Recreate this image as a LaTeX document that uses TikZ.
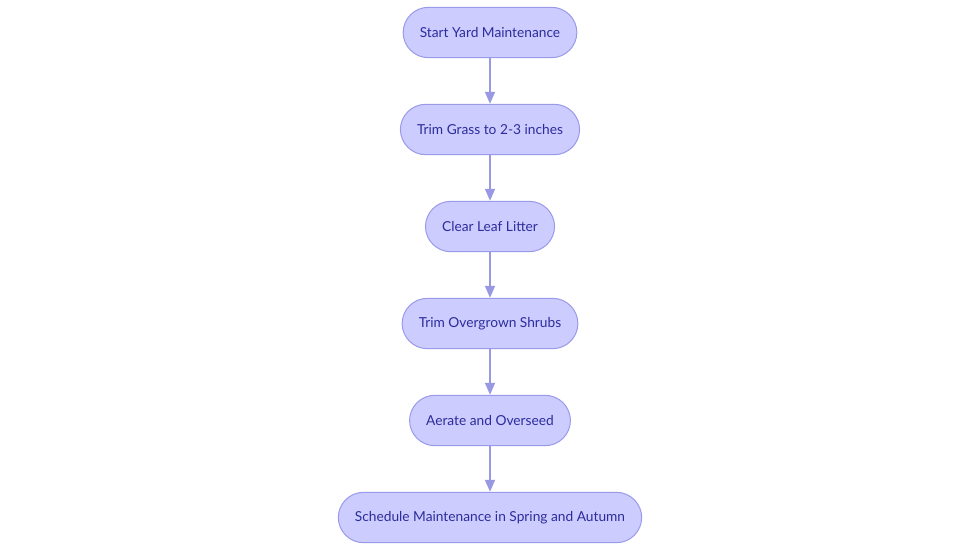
\documentclass[tikz,border=0pt]{standalone}
\usepackage{fontspec}
\setmainfont{Lato}
\usetikzlibrary{arrows.meta, positioning}

\definecolor{pillfill}{HTML}{CCCCFF}
\definecolor{pillline}{HTML}{9A9AEA}
\definecolor{pilltext}{HTML}{2C2C9C}
\definecolor{flowline}{HTML}{9999E3}

\begin{document}
\begin{tikzpicture}[x=0.75pt, y=-0.75pt, node distance=34.2pt,
  pill/.style={draw=pillline, fill=pillfill, text=pilltext, line width=0.75pt,
    rounded corners=19pt, minimum height=37.8pt, inner xsep=12.5pt,
    font=\fontsize{10.3}{12}\selectfont},
  flow/.style={draw=flowline, line width=1.3pt,
    -{Triangle[width=7.5pt, length=9pt]}}]
  \useasboundingbox (0,0) rectangle (980,553);
  \node[pill] (start) at (490,32.5) {Start Yard Maintenance};
  \node[pill, below=of start] (grass) {Trim Grass to 2-3 inches};
  \node[pill, below=of grass] (leaves) {Clear Leaf Litter};
  \node[pill, below=of leaves] (shrubs) {Trim Overgrown Shrubs};
  \node[pill, below=of shrubs] (aerate) {Aerate and Overseed};
  \node[pill, below=of aerate] (plan) {Schedule Maintenance in Spring and Autumn};
  \draw[flow] (start) -- (grass);
  \draw[flow] (grass) -- (leaves);
  \draw[flow] (leaves) -- (shrubs);
  \draw[flow] (shrubs) -- (aerate);
  \draw[flow] (aerate) -- (plan);
\end{tikzpicture}
\end{document}
